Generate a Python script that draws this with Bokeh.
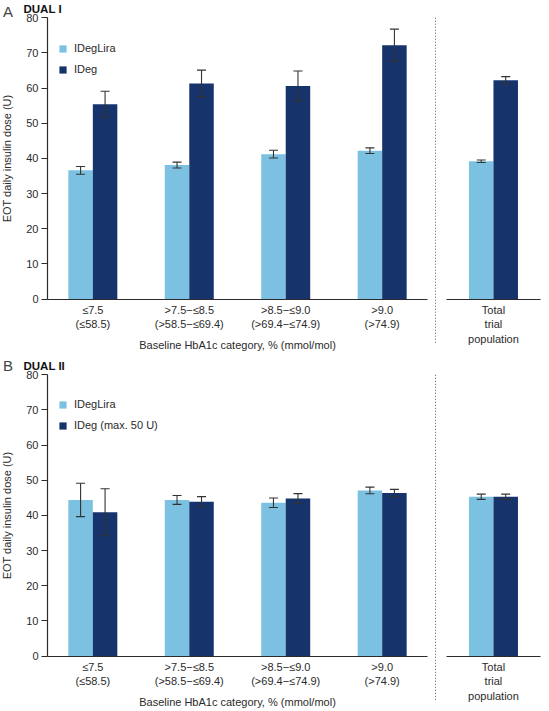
from bokeh.plotting import figure
from bokeh.models import (ColumnDataSource, Range1d, FixedTicker, Whisker, TeeHead,
                          Legend, LegendItem, Label, LinearAxis)
from bokeh.layouts import column
from bokeh.embed import file_html
from bokeh.resources import INLINE

# HbA1c categories, % (mmol/mol)
categories = ["≤7.5\n(≤58.5)", ">7.5−≤8.5\n(>58.5−≤69.4)",
              ">8.5−≤9.0\n(>69.4−≤74.9)", ">9.0\n(>74.9)"]
total_label = "Total\ntrial\npopulation"
y_ticks = [0, 10, 20, 30, 40, 50, 60, 70, 80]

# DUAL I: EOT daily insulin dose (U), mean and SE
dual1_ideglira = [36.6, 38.1, 41.2, 42.2]
dual1_ideglira_err = [1.1, 0.85, 1.1, 0.8]
dual1_ideg = [55.4, 61.3, 60.6, 72.2]
dual1_ideg_err = [3.7, 3.8, 4.25, 4.55]
dual1_total = [39.2, 62.2]
dual1_total_err = [0.35, 1.05]

# DUAL II
dual2_ideglira = [44.4, 44.4, 43.6, 47.1]
dual2_ideglira_err = [4.75, 1.25, 1.35, 0.95]
dual2_ideg = [40.9, 43.9, 44.8, 46.4]
dual2_ideg_err = [6.7, 1.45, 1.4, 1.0]
dual2_total = [45.3, 45.3]
dual2_total_err = [0.75, 0.75]

LIGHT = "#7DC1E2"
DARK = "#17336B"
INK = "#2b2b2b"
FONT = "Liberation Sans"
FS = "11px"
PAGE_W = 549

# x layout (one unit = spacing between category groups)
BAR_W = 0.254
X_LO, X_HI = 0.0427, 5.735          # visible x extent
MAIN_BOUNDS = (0.53, 4.47)          # baseline under the four categories
DIVIDER_X = 4.553                   # dotted separator
TOTAL_BOUNDS = (4.667, 5.641)       # baseline under the total population
TOTAL_X = 5.154


def style_axis(ax):
    ax.axis_line_color = INK
    ax.axis_line_width = 1.2
    ax.major_tick_line_color = INK
    ax.major_tick_line_width = 1.2
    ax.minor_tick_line_color = None
    ax.major_label_text_font = FONT
    ax.major_label_text_font_size = FS
    ax.major_label_text_color = INK
    ax.axis_label_text_font = FONT
    ax.axis_label_text_font_size = FS
    ax.axis_label_text_font_style = "normal"
    ax.axis_label_text_color = INK


def add_bars(p, xs, lira, lira_err, deg, deg_err):
    src = ColumnDataSource(dict(
        x_l=[x - BAR_W / 2 for x in xs], x_d=[x + BAR_W / 2 for x in xs],
        lira=lira, deg=deg,
        lira_up=[v + e for v, e in zip(lira, lira_err)],
        lira_lo=[v - e for v, e in zip(lira, lira_err)],
        deg_up=[v + e for v, e in zip(deg, deg_err)],
        deg_lo=[v - e for v, e in zip(deg, deg_err)],
    ))
    r1 = p.vbar(x="x_l", top="lira", width=BAR_W, bottom=0, source=src,
                fill_color=LIGHT, line_color=None)
    r2 = p.vbar(x="x_d", top="deg", width=BAR_W, bottom=0, source=src,
                fill_color=DARK, line_color=None)
    for base, up, lo in (("x_l", "lira_up", "lira_lo"), ("x_d", "deg_up", "deg_lo")):
        w = Whisker(source=src, base=base, upper=up, lower=lo,
                    line_color="#333333", line_width=1.1, level="overlay",
                    upper_head=TeeHead(size=9, line_color="#333333", line_width=1.1),
                    lower_head=TeeHead(size=9, line_color="#333333", line_width=1.1))
        p.add_layout(w)
    return r1, r2


def make_panel(letter, name, lira, lira_err, deg, deg_err, tot, tot_err, deg_name,
               height, y_lo, y_hi, divider_lo, letter_base, name_base):
    xs = [i + 1 for i in range(len(categories))]

    p = figure(width=PAGE_W, height=height, x_range=Range1d(X_LO, X_HI),
               y_range=Range1d(y_lo, y_hi), output_backend="svg",
               toolbar_location=None, min_border_left=0, min_border_right=0,
               min_border_top=0, min_border_bottom=0)
    p.xgrid.visible = False
    p.ygrid.visible = False
    p.outline_line_color = None

    r1, r2 = add_bars(p, xs, lira, lira_err, deg, deg_err)
    add_bars(p, [TOTAL_X], [tot[0]], [tot_err[0]], [tot[1]], [tot_err[1]])

    ya = p.yaxis[0]
    style_axis(ya)
    ya.fixed_location = MAIN_BOUNDS[0]
    ya.bounds = (0, 80)
    ya.ticker = FixedTicker(ticks=y_ticks)
    ya.major_tick_out = 6
    ya.major_tick_in = 0
    ya.major_label_standoff = 3
    ya.axis_label = "EOT daily insulin dose (U)"
    ya.axis_label_standoff = 10

    xa = p.xaxis[0]
    style_axis(xa)
    xa.fixed_location = 0
    xa.bounds = MAIN_BOUNDS
    xa.ticker = FixedTicker(ticks=xs)
    xa.major_label_overrides = {x: c for x, c in zip(xs, categories)}
    xa.major_tick_out = 0
    xa.major_tick_in = 0
    xa.major_label_standoff = 5
    xa.axis_label = "Baseline HbA1c category, % (mmol/mol)"
    xa.axis_label_standoff = 5

    xt = LinearAxis(fixed_location=0, bounds=TOTAL_BOUNDS,
                    ticker=FixedTicker(ticks=[TOTAL_X]),
                    major_label_overrides={TOTAL_X: total_label},
                    major_tick_out=0, major_tick_in=0, major_label_standoff=5)
    style_axis(xt)
    p.add_layout(xt, "below")

    # dotted separator between the categories and the total population
    p.segment(x0=[DIVIDER_X], y0=[80], x1=[DIVIDER_X], y1=[divider_lo],
              line_color="#555555", line_width=1, line_dash="1 2")

    legend = Legend(items=[LegendItem(label="IDegLira", renderers=[r1]),
                           LegendItem(label=deg_name, renderers=[r2])],
                    location=(58, height - 79), padding=0, margin=0, spacing=1,
                    glyph_width=9, glyph_height=9, label_standoff=7,
                    label_height=20,
                    border_line_color=None, background_fill_alpha=0,
                    label_text_font=FONT, label_text_font_size=FS,
                    label_text_color=INK)
    p.add_layout(legend)

    p.add_layout(Label(x=2.5, y=height - letter_base, x_units="screen", y_units="screen",
                       text=letter, text_font=FONT, text_font_size="15px",
                       text_color="#444444", text_baseline="alphabetic"))
    p.add_layout(Label(x=23, y=height - name_base, x_units="screen", y_units="screen",
                       text=name, text_font=FONT, text_font_size="11.5px",
                       text_font_style="bold", text_color="#111111",
                       text_baseline="alphabetic"))
    return p


# panel A: 80 at 17.2 px from the top, 0 at 57.4 px above the bottom (356 px tall)
panel_a = make_panel("A", "DUAL I", dual1_ideglira, dual1_ideglira_err,
                     dual1_ideg, dual1_ideg_err, dual1_total, dual1_total_err,
                     "IDeg", 356, -16.33, 84.89, -12.7, 10.5, 8)
# panel B: 80 at 18.3 px from the top, 0 at 55.5 px above the bottom (355 px tall)
panel_b = make_panel("B", "DUAL II", dual2_ideglira, dual2_ideglira_err,
                     dual2_ideg, dual2_ideg_err, dual2_total, dual2_total_err,
                     "IDeg (max. 50 U)", 355, -15.79, 85.21, -12.9, 9, 9)

layout = column(panel_a, panel_b)

with open("out.html", "w") as f:
    f.write(file_html(layout, INLINE))
